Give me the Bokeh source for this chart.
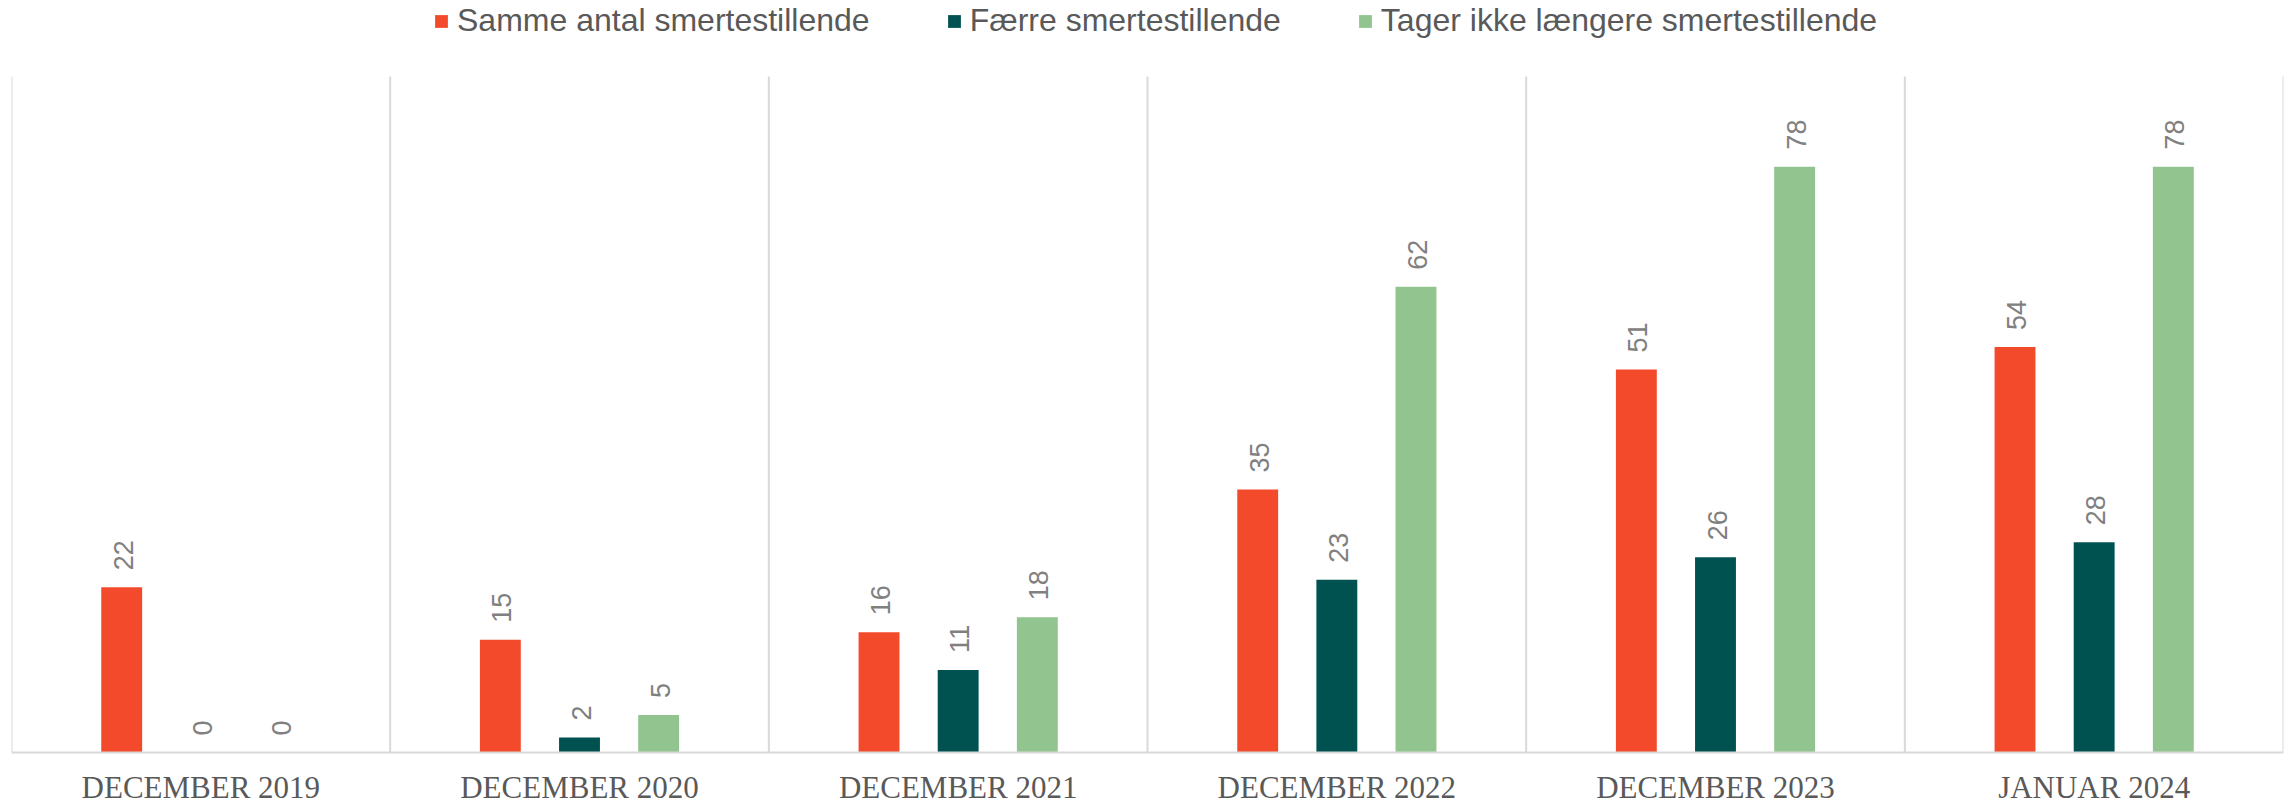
import math
from bokeh.plotting import figure
from bokeh.models import ColumnDataSource, FactorRange, Legend, LegendItem, Span
from bokeh.transform import dodge
from bokeh.core.properties import value
from bokeh.embed import file_html
from bokeh.resources import INLINE

categories = ["DECEMBER 2019", "DECEMBER 2020", "DECEMBER 2021",
              "DECEMBER 2022", "DECEMBER 2023", "JANUAR 2024"]
series_names = ["Samme antal smertestillende", "Færre smertestillende",
                "Tager ikke længere smertestillende"]
samme = [22, 15, 16, 35, 51, 54]
faerre = [0, 2, 11, 23, 26, 28]
tager_ikke = [0, 5, 18, 62, 78, 78]
colors = ["#F44A2C", "#005250", "#91C48F"]
y_max = 90

src = ColumnDataSource(dict(
    cat=categories, s0=samme, s1=faerre, s2=tager_ikke,
    l0=[str(v) for v in samme], l1=[str(v) for v in faerre], l2=[str(v) for v in tager_ikke],
    base=[0] * len(categories),
))

# plotting area 676px tall for 0..90; frame extended above (legend) and below (labels)
u = y_max / 676
p = figure(x_range=FactorRange(*categories, range_padding=0),
           y_range=(-53 * u, y_max + 76 * u),
           width=2290, height=805, output_backend="svg", toolbar_location=None,
           x_axis_location=None, y_axis_location=None,
           min_border_left=11, min_border_right=7, min_border_top=0, min_border_bottom=0)
p.outline_line_color = None
p.background_fill_color = "white"
p.xgrid.grid_line_color = None
p.ygrid.grid_line_color = None

# category separators
sep_x = [(c, -0.5) for c in categories] + [(categories[-1], 0.5)]
p.segment(x0=sep_x, y0=[0] * len(sep_x), x1=sep_x, y1=[y_max] * len(sep_x),
          line_color="#D9D9D9", line_width=2)
p.add_layout(Span(location=0, dimension="width", line_color="#D9D9D9", line_width=2))

offsets = [-0.209, 0.0, 0.209]
renderers = []
for i, col in enumerate(["s0", "s1", "s2"]):
    r = p.vbar(x=dodge("cat", offsets[i], range=p.x_range), top=col, width=0.108,
               source=src, fill_color=colors[i], line_color=None)
    renderers.append(r)
    p.text(x=dodge("cat", offsets[i] + 0.004, range=p.x_range), y=col, text="l" + col[1],
           source=src, angle=math.pi / 2, text_align="left", text_baseline="middle",
           y_offset=-17, text_color="#808080", text_font=value("Liberation Sans"),
           text_font_size="27px")

# category labels (below baseline)
p.text(x="cat", y="base", text="cat", source=src, text_align="center",
       text_baseline="alphabetic", y_offset=35, text_color="#595959",
       text_font=value("Liberation Serif"), text_font_size="31px")

legend = Legend(items=[LegendItem(label=series_names[i], renderers=[renderers[i]]) for i in range(3)],
                orientation="horizontal", location=(422, 766),
                label_text_font="Liberation Sans", label_text_font_size="32px",
                label_text_color="#595959", glyph_width=16, glyph_height=16,
                label_standoff=8, spacing=76, padding=0, margin=0,
                border_line_color=None, background_fill_alpha=0)
p.add_layout(legend)

open("out.html", "w").write(file_html(p, INLINE))
